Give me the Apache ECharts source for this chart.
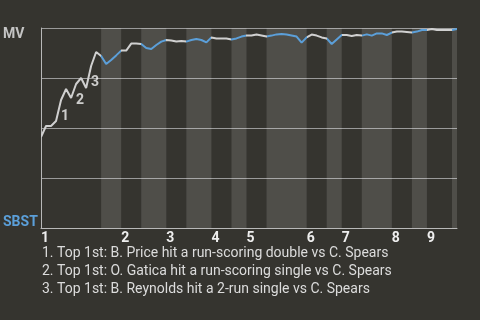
<!DOCTYPE html>
<html><head><meta charset="utf-8">
<script src="https://cdn.jsdelivr.net/npm/echarts@6/dist/echarts.min.js"></script>
<style>html,body{margin:0;padding:0;background:#35342f}#c{width:480px;height:320px}</style>
</head><body><div id="c"></div>
<script>
const innings = ['1','2','3','4','5','6','7','8','9'];
const inningStarts = [0,16,25,34,41,53,60,70,77];
const halfStarts = [0,12,16,20,25,29,34,38,41,45,53,57,60,64,70,74,77,82,83];
const winProb = [45.5,51,51,53.5,64,69.5,65,72,75,70,81,88,86,82,84,86.3,88.7,88.7,92.2,92.2,
  92,90,89.5,91.5,93.2,94,93.7,93.2,93.5,93.2,94,94.5,94,92.8,95.3,94.8,94.7,94.7,94.3,94.8,
  95.7,96.2,96.2,96.7,96.2,95.7,96.2,96.8,97,96.7,96.2,95.7,92.7,95.3,96.7,96.2,95.3,94.8,92,94.3,
  96.5,96.5,96,96.5,96.2,96.8,96.2,97.3,97.3,96.5,97.7,98.2,98.2,98,97.7,98.2,99,99,99.5,99,
  99,99,99,99.5];
const scoringPlays = [4,7,10];
const scoringLabels = ['1','2','3'];
const awayTeam = 'MV';
const homeTeam = 'SBST';
const notes = [
  '1. Top 1st: B. Price hit a run-scoring double vs C. Spears',
  '2. Top 1st: O. Gatica hit a run-scoring single vs C. Spears',
  '3. Top 1st: B. Reynolds hit a 2-run single vs C. Spears'
];

const WHITE = '#d0d0d0', BLUE = '#5b9fd9';
const lastIdx = winProb.length - 1;
const pieces = [], bands = [];
for (let h = 0; h < halfStarts.length - 1; h++) {
  const a = halfStarts[h], b = halfStarts[h + 1];
  const isBottom = h % 2 === 1;
  const p = { gte: a, color: isBottom ? BLUE : WHITE };
  if (b === lastIdx) p.lte = b; else p.lt = b;
  pieces.push(p);
  if (isBottom) bands.push([{ xAxis: a }, { xAxis: b }]);
}

const chart = echarts.init(document.getElementById('c'), null, { renderer: 'canvas' });
chart.setOption({
  backgroundColor: '#35342f',
  animation: false,
  textStyle: { fontFamily: 'Roboto' },
  title: {
    text: notes.join('\n'),
    left: 42, top: 244, padding: 0,
    textStyle: { color: '#dcdcdc', fontSize: 14, fontWeight: 'normal', lineHeight: 18, fontFamily: 'Roboto' }
  },
  grid: { left: 41, right: 23, top: 28, height: 200 },
  xAxis: {
    type: 'value', min: 0, max: lastIdx,
    axisLine: { show: true, lineStyle: { color: '#b8b8b8', width: 1 } },
    axisTick: { show: false },
    splitLine: { show: false },
    axisLabel: {
      customValues: inningStarts,
      formatter: v => innings[inningStarts.indexOf(v)] || '',
      align: 'left', margin: 3, color: '#eeeeee', fontSize: 14, fontWeight: 'bold', fontFamily: 'Roboto'
    }
  },
  yAxis: {
    type: 'value', min: 0, max: 100, interval: 25,
    axisLine: { show: true, lineStyle: { color: '#b8b8b8', width: 1 } },
    axisTick: { show: false },
    splitLine: { show: true, lineStyle: { color: '#9a9a9a', width: 1 } },
    axisLabel: {
      align: 'left', margin: 38, verticalAlign: 'middle',
      formatter: v => v === 100 ? '{mv|' + awayTeam + '}' : (v === 0 ? '{sb|' + homeTeam + '}' : ''),
      rich: {
        mv: { color: '#c4c4c4', fontSize: 14, fontWeight: 'bold', fontFamily: 'Roboto', padding: [12, 0, 0, 0] },
        sb: { color: BLUE, fontSize: 14, fontWeight: 'bold', fontFamily: 'Roboto', padding: [0, 0, 11, 0] }
      }
    }
  },
  visualMap: {
    show: false, type: 'piecewise', dimension: 0, seriesIndex: 0, pieces: pieces
  },
  series: [
    {
      type: 'line', z: 3,
      data: winProb.map((v, i) => [i, v]),
      showSymbol: false, symbol: 'none',
      lineStyle: { width: 2 }
    },
    {
      type: 'scatter', z: 4,
      data: scoringPlays.map((i, k) => [i, winProb[i], scoringLabels[k]]),
      symbolSize: 1, itemStyle: { color: 'rgba(0,0,0,0)' },
      label: {
        show: true, position: 'inside', offset: [4, 16],
        formatter: p => p.value[2],
        color: '#f2f2f2', fontSize: 14, fontWeight: 'bold', fontFamily: 'Roboto'
      }
    },
    {
      type: 'line', z: 1, data: [],
      markArea: {
        silent: true,
        itemStyle: { color: 'rgba(255,255,255,0.13)' },
        data: bands
      }
    }
  ]
});
</script></body></html>
